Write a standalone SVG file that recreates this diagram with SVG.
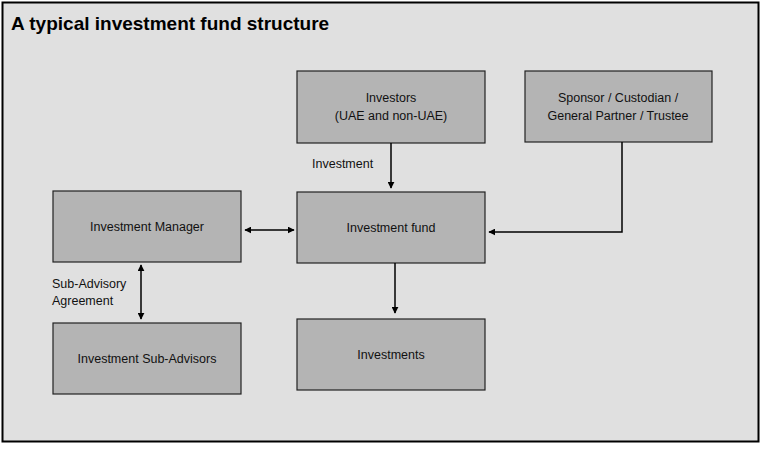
<svg xmlns="http://www.w3.org/2000/svg" width="762" height="449" viewBox="0 0 762 449">
<style>
.box{fill:#b4b4b4;stroke:#222;stroke-width:1.2}
.t{font-family:"Liberation Sans",Arial,sans-serif;font-size:12.5px;fill:#111;text-anchor:middle}
.l{font-family:"Liberation Sans",Arial,sans-serif;font-size:12.5px;fill:#111}
.c{fill:none;stroke:#000;stroke-width:1.5}
</style>
<defs>
<marker id="a" viewBox="0 0 10 10" refX="9" refY="5" markerWidth="7" markerHeight="7" orient="auto-start-reverse" markerUnits="userSpaceOnUse"><path d="M0,0L10,5L0,10z" fill="#000"/></marker>
</defs>
<rect x="0" y="0" width="762" height="449" fill="#fff"/>
<rect x="2.5" y="2.5" width="756" height="439" fill="#e0e0e0" stroke="#000" stroke-width="2"/>
<text x="11" y="30" font-family="Liberation Sans,Arial,sans-serif" font-size="19" font-weight="bold" fill="#000">A typical investment fund structure</text>
<g id="investors"><rect class="box" x="297" y="71" width="188" height="72"/><text class="t" x="391" y="102">Investors</text><text class="t" x="391" y="120">(UAE and non-UAE)</text></g>
<g id="sponsor"><rect class="box" x="525" y="71" width="187" height="71"/><text class="t" x="618" y="102">Sponsor / Custodian /</text><text class="t" x="618" y="120">General Partner / Trustee</text></g>
<g id="manager"><rect class="box" x="53" y="191" width="188" height="71"/><text class="t" x="147" y="231">Investment Manager</text></g>
<g id="fund"><rect class="box" x="297" y="192" width="188" height="71"/><text class="t" x="391" y="232">Investment fund</text></g>
<g id="investments"><rect class="box" x="297" y="319" width="188" height="71"/><text class="t" x="391" y="359">Investments</text></g>
<g id="subadvisors"><rect class="box" x="53" y="323" width="188" height="71"/><text class="t" x="147" y="363">Investment Sub-Advisors</text></g>
<g id="connectors">
<path class="c" d="M391,143V188" marker-end="url(#a)"/>
<path class="c" d="M622,142V232H489" marker-end="url(#a)"/>
<path class="c" d="M245,230H294" marker-start="url(#a)" marker-end="url(#a)"/>
<path class="c" d="M395,263V313" marker-end="url(#a)"/>
<path class="c" d="M141,265V319" marker-start="url(#a)" marker-end="url(#a)"/>
<text class="l" x="312" y="168">Investment</text>
<text class="l" x="52" y="288">Sub-Advisory</text>
<text class="l" x="52" y="305">Agreement</text>
</g>
</svg>
